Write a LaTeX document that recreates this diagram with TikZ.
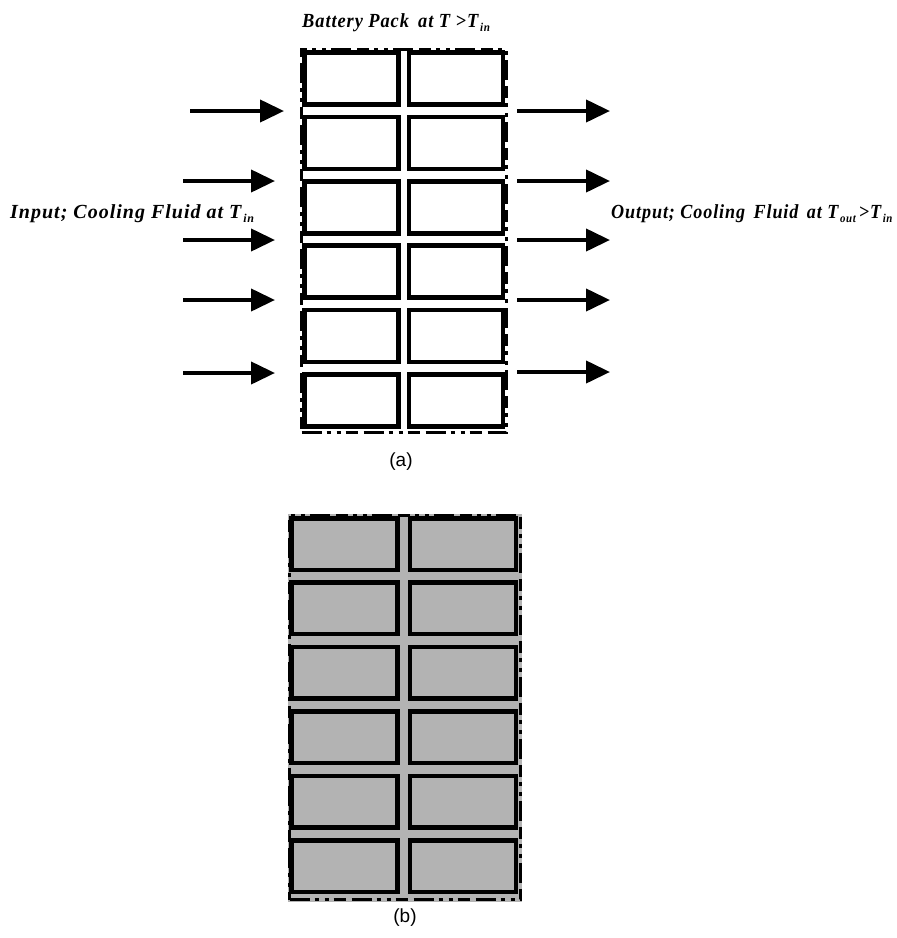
\documentclass[tikz,border=0pt]{standalone}
\usepackage{fontspec}
\setmainfont{Liberation Serif}
\setsansfont{Liberation Sans}
\usetikzlibrary{arrows.meta}
\newcommand{\sbs}[1]{\raisebox{-0.45ex}{\fontsize{12}{12}\selectfont\,#1}}
\definecolor{boxgray}{RGB}{179,179,179}
\tikzset{
  cellA/.style={draw=black, line width=4.5pt, fill=white, minimum width=94pt, minimum height=52pt, inner sep=0pt},
  cellB/.style={draw=black, line width=4.5pt, fill=boxgray, minimum width=106pt, minimum height=51.5pt, inner sep=0pt},
  dashborder/.style={draw=black, line width=3.2pt, dash pattern=on 20pt off 5pt on 4pt off 6pt on 4pt off 5pt on 12pt off 6pt},
  flow/.style={line width=4pt, -{Triangle[length=24pt,width=22pt]}},
  lbl/.style={font=\fontsize{20}{21}\selectfont\bfseries\itshape\addfontfeature{LetterSpace=5}, inner sep=0pt},
  captext/.style={font=\sffamily\fontsize{19}{20}\selectfont, inner sep=0pt}
}
\begin{document}
\begin{tikzpicture}[x=1pt,y=-1pt]
\useasboundingbox (0,0) rectangle (897,938);
% ---------- panel (a) ----------
\node[dashborder, minimum width=205pt, minimum height=383pt, inner sep=0pt] (packA) at (404,241) {};
\foreach \r [count=\i] in {0,1,2,3,4,5}{
  \pgfmathsetmacro{\cy}{78.5+64.4*\r}
  \node[cellA] (aL\i) at (351.5,\cy) {};
  \node[cellA] (aR\i) at (456,\cy) {};
}
% arrows
\coordinate (inS1) at (190,111); \coordinate (inE1) at (284,111);
\foreach \y [count=\i from 2] in {181,240,300,373}{
  \coordinate (inS\i) at (183,\y); \coordinate (inE\i) at (275,\y);
}
\foreach \y [count=\i] in {111,181,240,300,372}{
  \coordinate (outS\i) at (517,\y); \coordinate (outE\i) at (610,\y);
}
\foreach \i in {1,...,5}{
  \draw[flow] (inS\i) -- (inE\i);
  \draw[flow] (outS\i) -- (outE\i);
}
% labels
\node[lbl, anchor=base west] (title) at (302,27) {\scalebox{0.92}[1]{Battery Pack\enspace at T >T\sbs{in}}};
\node[lbl, anchor=base west] (inlbl) at (10,218) {Input; Cooling Fluid at T\sbs{in}};
\node[lbl, anchor=base west] (outlbl) at (611,218) {\scalebox{0.905}[1]{Output; Cooling\, Fluid\, at T\sbs{out}\,>T\sbs{in}}};
\node[captext] (capa) at (401,462) {(a)};
% ---------- panel (b) ----------
\fill[boxgray] (288,514) rectangle (522,902);
\node[dashborder, minimum width=231pt, minimum height=384pt, inner sep=0pt] (packB) at (405,707.5) {};
\foreach \r [count=\i] in {0,1,2,3,4,5}{
  \pgfmathsetmacro{\cy}{544+64.4*\r}
  \node[cellB] (bL\i) at (344.5,\cy) {};
  \node[cellB] (bR\i) at (463,\cy) {};
}
\node[captext] (capb) at (405,918) {(b)};
\end{tikzpicture}
\end{document}
